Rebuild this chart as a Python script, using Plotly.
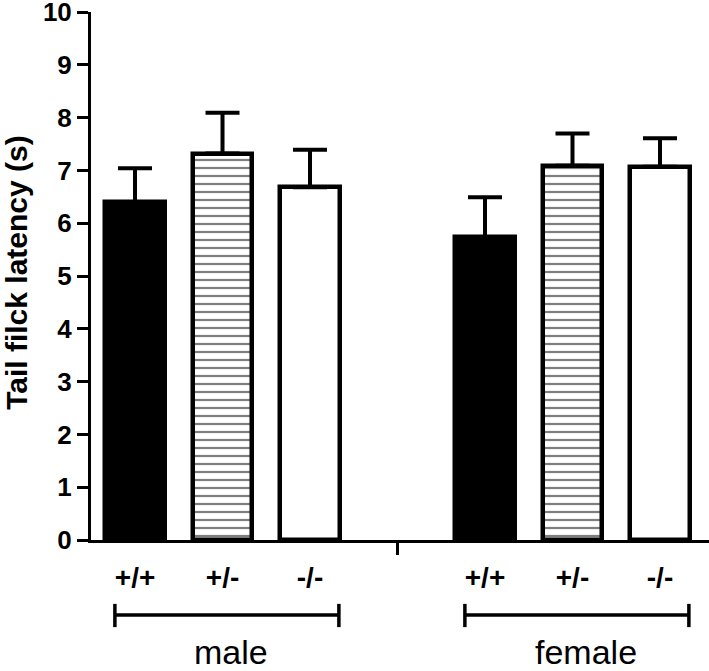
import plotly.graph_objects as go

genotypes = ["+/+", "+/-", "-/-"]
groups = ["male", "female"]
male_mean = [6.40, 7.32, 6.68]
male_sem = [0.64, 0.77, 0.71]
female_mean = [5.74, 7.09, 7.07]
female_sem = [0.75, 0.61, 0.54]
y_ticks = [0, 1, 2, 3, 4, 5, 6, 7, 8, 9, 10]
y_title = "Tail filck latency (s)"

group_start = [0, 4]
break_pos = [3]

fills = ["black", "white", "white"]
patterns = ["", "-", ""]

FONT = "Liberation Sans, Arial, sans-serif"

fig = go.Figure()
means = [male_mean, female_mean]
sems = [male_sem, female_sem]
for i, g in enumerate(genotypes):
    xs = [group_start[k] + i for k in range(len(groups))]
    ys = [means[k][i] for k in range(len(groups))]
    es = [sems[k][i] for k in range(len(groups))]
    fig.add_trace(go.Bar(
        x=xs, y=ys, width=0.68, name=g, showlegend=False,
        marker=dict(color=fills[i], line=dict(color="black", width=4.5),
                    pattern=dict(shape=patterns[i], fgcolor="black", bgcolor=fills[i],
                                 size=8, solidity=0.28, fillmode="overlay")),
        error_y=dict(type="data", symmetric=False, array=es, arrayminus=[0] * len(es),
                     color="black", thickness=4, width=17),
    ))

all_pos = [group_start[k] + i for k in range(len(groups)) for i in range(len(genotypes))]
all_text = [genotypes[i] for k in range(len(groups)) for i in range(len(genotypes))]

# group brackets and labels
for k, g in enumerate(groups):
    c = group_start[k] + (len(genotypes) - 1) / 2 + 0.05
    half = 1.28
    fig.add_shape(type="line", xref="x", yref="paper", x0=c - half, x1=c + half,
                  y0=-0.142, y1=-0.142, line=dict(color="black", width=3.5))
    for e in (c - half, c + half):
        fig.add_shape(type="line", xref="x", yref="paper", x0=e, x1=e,
                      y0=-0.121, y1=-0.165, line=dict(color="black", width=3.5))
    fig.add_annotation(x=c + 0.05 * (1 + k), y=-0.212, xref="x", yref="paper", text=g,
                       showarrow=False, font=dict(family=FONT, size=34, color="black"),
                       xanchor="center", yanchor="middle")

# y-axis title
fig.add_annotation(x=-74 / 618, y=0.506, xref="paper", yref="paper",
                   text=f"<b>{y_title}</b>", textangle=-90, showarrow=False,
                   font=dict(family=FONT, size=30, color="black"),
                   xanchor="center", yanchor="middle")

fig.update_layout(
    width=709, height=671,
    margin=dict(l=91, r=0, t=12, b=131),
    plot_bgcolor="white", paper_bgcolor="white",
    bargap=0,
    font=dict(family=FONT, color="black"),
    xaxis=dict(
        range=[-0.503, 6.56], showgrid=False, zeroline=False, automargin=False,
        showline=True, linecolor="black", linewidth=3,
        tickmode="array", tickvals=all_pos, ticktext=[f"<b>{t}</b>" for t in all_text],
        ticks="", tickfont=dict(size=28, family=FONT, color="black"),
        ticklabelstandoff=10,
        minor=dict(tickmode="array", tickvals=break_pos, ticks="outside",
                   ticklen=12, tickwidth=3, tickcolor="black"),
    ),
    yaxis=dict(
        range=[0, 10.0001], showgrid=False, zeroline=False, automargin=False,
        showline=True, linecolor="black", linewidth=3,
        tickmode="array", tickvals=y_ticks, ticktext=[f"<b>{v}</b>" for v in y_ticks],
        ticks="outside", ticklen=11, tickwidth=3, tickcolor="black",
        tickfont=dict(size=26, family=FONT, color="black"),
        ticklabeloverflow="allow",
    ),
)

fig.write_html("out.html", config={"displayModeBar": False},
               post_script="document.body.style.margin='0';")
